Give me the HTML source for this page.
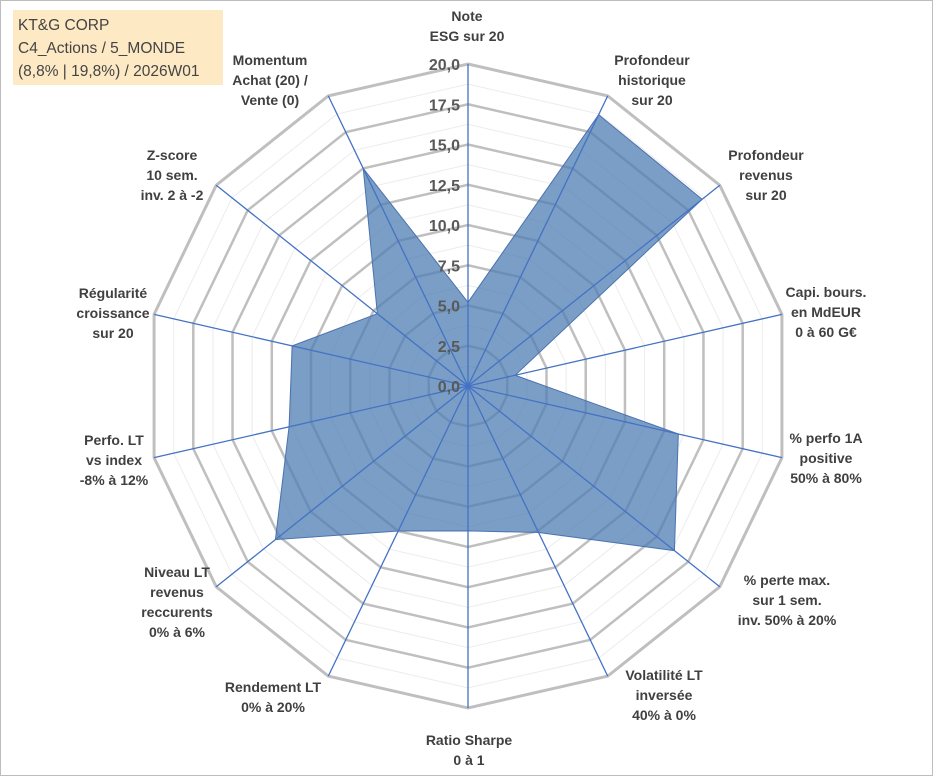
<!DOCTYPE html>
<html><head><meta charset="utf-8"><style>
body{margin:0;width:933px;height:776px;background:#fff;overflow:hidden;font-family:"Liberation Sans",sans-serif}
#frame{position:absolute;left:0;top:0;width:931px;height:774px;border:1px solid #bdbdbd}
#title{position:absolute;left:13px;top:10px;width:210px;height:75px;background:#fde9c4;color:#444;font-size:15.5px;line-height:23px;padding:4px 0 0 5px;box-sizing:border-box}
.lbl{position:absolute;transform:translateX(-50%);text-align:center;font-weight:bold;font-size:14px;line-height:20px;color:#404040;white-space:nowrap}
svg{position:absolute;left:0;top:0}
</style></head><body>
<div id="frame"></div>
<div id="title">KT&amp;G CORP<br>C4_Actions / 5_MONDE<br>(8,8% | 19,8%) / 2026W01</div>
<svg id="chart" width="933" height="776"></svg>
<div class="lbl" style="left:467px;top:6px">Note<br>ESG sur 20</div>
<div class="lbl" style="left:652px;top:50px">Profondeur<br>historique<br>sur 20</div>
<div class="lbl" style="left:766px;top:145px">Profondeur<br>revenus<br>sur 20</div>
<div class="lbl" style="left:826px;top:282px">Capi. bours.<br>en MdEUR<br>0 à 60 G€</div>
<div class="lbl" style="left:826px;top:428px">% perfo 1A<br>positive<br>50% à 80%</div>
<div class="lbl" style="left:787px;top:570px">% perte max.<br>sur 1 sem.<br>inv. 50% à 20%</div>
<div class="lbl" style="left:664px;top:665px">Volatilité LT<br>inversée<br>40% à 0%</div>
<div class="lbl" style="left:469px;top:730px">Ratio Sharpe<br>0 à 1</div>
<div class="lbl" style="left:273px;top:677px">Rendement LT<br>0% à 20%</div>
<div class="lbl" style="left:177px;top:562px">Niveau LT<br>revenus<br>reccurents<br>0% à 6%</div>
<div class="lbl" style="left:114px;top:430px">Perfo. LT<br>vs index<br>-8% à 12%</div>
<div class="lbl" style="left:113px;top:283px">Régularité<br>croissance<br>sur 20</div>
<div class="lbl" style="left:172px;top:145px">Z-score<br>10 sem.<br>inv. 2 à -2</div>
<div class="lbl" style="left:270px;top:50px">Momentum<br>Achat (20) /<br>Vente (0)</div>
<script>
const categories=["Note ESG","Profondeur historique","Profondeur revenus","Capi","% perfo 1A","% perte max","Volatilité LT","Ratio Sharpe","Rendement LT","Niveau LT revenus","Perfo LT","Régularité","Z-score","Momentum"];
const values=[5.2,18.7,18.6,3.0,13.4,16.4,10.1,9.0,10.0,15.3,11.4,11.2,7.2,15.0];
const tickValues=[0,2.5,5,7.5,10,12.5,15,17.5,20];
const tickLabels=["0,0","2,5","5,0","7,5","10,0","12,5","15,0","17,5","20,0"];
const cx=468,cy=386,R=322,maxV=20,N=categories.length;
const svg=document.getElementById('chart');const ns='http://www.w3.org/2000/svg';
function rr(v){return v/maxV*R;}
function pt(i,v){const a=i*2*Math.PI/N;return [cx+rr(v)*Math.sin(a),cy-rr(v)*Math.cos(a)];}
function mk(t,at){const e=document.createElementNS(ns,t);for(const k in at)e.setAttribute(k,at[k]);svg.appendChild(e);return e;}
// minor rings
for(let k=0;k<tickValues.length-1;k++){const v=(tickValues[k]+tickValues[k+1])/2;
 const p=mk('polygon',{points:categories.map((c,i)=>pt(i,v).join(',')).join(' '),fill:'none',stroke:'#ececec','stroke-width':1});
 
 }
tickValues.forEach(v=>{if(v===0)return;
 const p=mk('polygon',{points:categories.map((c,i)=>pt(i,v).join(',')).join(' '),fill:'none',stroke:'#bfbfbf','stroke-width':v===maxV?3:2.5});
 
 });
const poly=mk('polygon',{points:values.map((v,i)=>pt(i,v).join(',')).join(' '),fill:'#4f7db3','fill-opacity':0.75,stroke:'#4a72b0','stroke-width':1});


categories.forEach((c,i)=>{const p=pt(i,maxV);
 const l=mk('line',{x1:cx,y1:cy,x2:p[0],y2:p[1],stroke:'#4472c4','stroke-width':1.3});
 
 });
tickValues.forEach((v,k)=>{const t=mk('text',{x:cx-8,y:cy-rr(v)+6,'text-anchor':'end','font-size':16,'font-weight':'bold',fill:'#595959','font-family':'Liberation Sans, sans-serif'});
 t.textContent=tickLabels[k];
 
 });
</script>
</body></html>
